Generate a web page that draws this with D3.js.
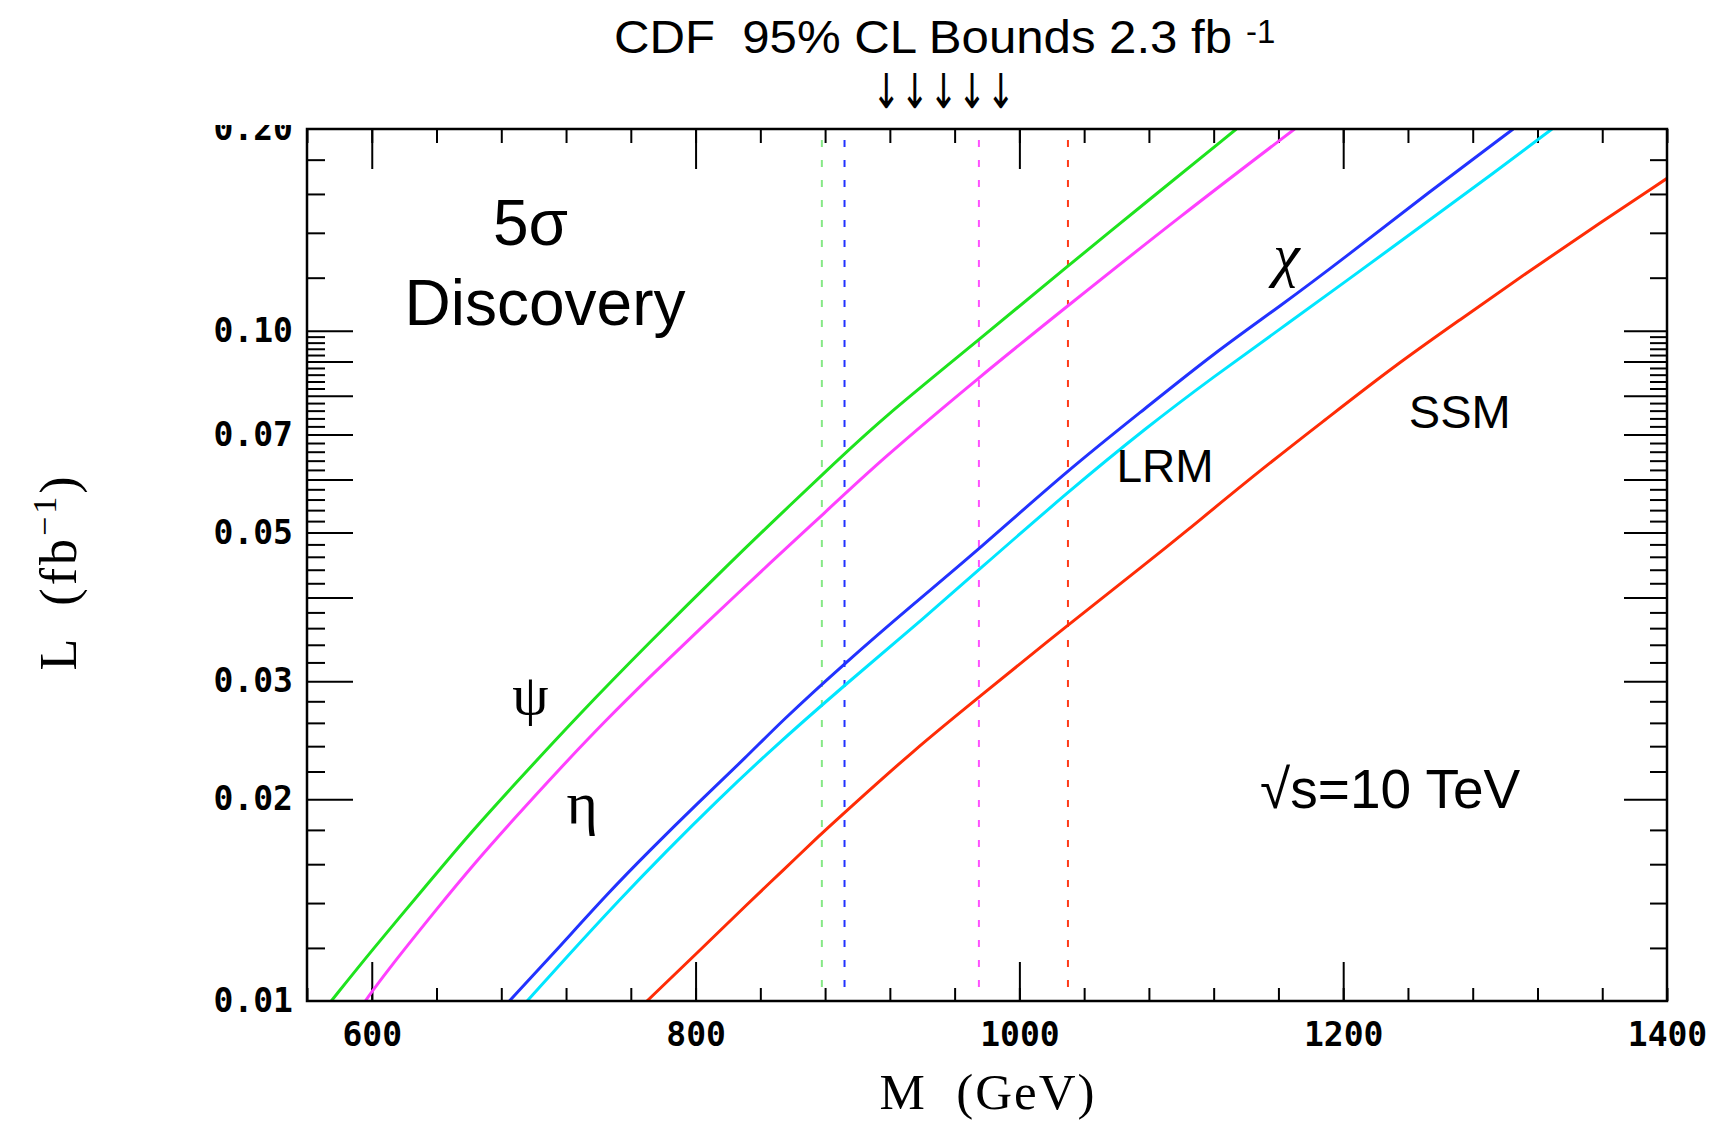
<!DOCTYPE html>
<html>
<head>
<meta charset="utf-8">
<script src="https://cdn.jsdelivr.net/npm/d3@7"></script>
<style>
  body { margin: 0; background: #fff; }
  text { white-space: pre; }
</style>
</head>
<body>
<svg id="chart"></svg>
<script>
'use strict'

const width = 1725,
      height = 1121

// discovery curves (mass in GeV, luminosity in fb^-1)
const psiMass = [575, 600, 634, 659, 687, 727, 770, 823, 852, 878, 914, 975, 1030, 1079, 1134]
const psiLum  = [0.0100, 0.0119, 0.0149, 0.0176, 0.0209, 0.0266, 0.0340, 0.0455, 0.0531, 0.0609, 0.0736, 0.0969, 0.1250, 0.1560, 0.2000]

const etaMass = [596, 607, 642, 663, 687, 716, 745, 772, 799, 850, 878, 914, 975, 1030, 1099, 1170]
const etaLum  = [0.0100, 0.0109, 0.0139, 0.0160, 0.0186, 0.0222, 0.0263, 0.0305, 0.0352, 0.0460, 0.0530, 0.0640, 0.0852, 0.1090, 0.1480, 0.2000]

const chiMass = [685, 714, 746, 772, 801, 832, 852, 892, 935, 975, 1030, 1079, 1120, 1161, 1200, 1252, 1305]
const chiLum  = [0.0100, 0.0119, 0.0145, 0.0168, 0.0197, 0.0232, 0.0260, 0.0319, 0.0392, 0.0472, 0.0620, 0.0770, 0.0925, 0.1088, 0.1280, 0.1604, 0.2000]

const lrmMass = [696, 720, 753, 782, 813, 844, 892, 935, 975, 1030, 1079, 1120, 1161, 1200, 1252, 1293, 1329]
const lrmLum  = [0.0100, 0.0116, 0.01416, 0.01674, 0.01986, 0.0234, 0.0296, 0.0362, 0.0440, 0.0575, 0.0719, 0.0854, 0.1006, 0.1177, 0.1455, 0.1720, 0.2000]

const ssmMass = [770, 801, 834, 852, 878, 892, 935, 975, 1030, 1081, 1099, 1149, 1190, 1231, 1272, 1313, 1355, 1400]
const ssmLum  = [0.0100, 0.0118, 0.0141, 0.0155, 0.0178, 0.0191, 0.0237, 0.0284, 0.0364, 0.0455, 0.0493, 0.0620, 0.0740, 0.0884, 0.1038, 0.1219, 0.1429, 0.1688]

// CDF 95% CL lower mass bounds (dashed lines)
const boundModels = ['psi', 'chi', 'eta', 'ssm']
const boundMass   = [878, 892, 975, 1030]

// axes
const massDomain   = [560, 1400]
const lumDomain    = [0.01, 0.2]
const massMajor    = [600, 800, 1000, 1200]
const massMinor    = d3.range(560, 1401, 40)
const lumLabels    = [0.01, 0.02, 0.03, 0.05, 0.07, 0.10, 0.20]
const lumMajor     = [0.02, 0.03, 0.04, 0.05, 0.06, 0.07, 0.08, 0.09, 0.10]
const lumMinor     = [0.012, 0.014, 0.016, 0.018].concat(
                       d3.range(22, 100, 2).filter(v => v % 10 !== 0).map(v => v / 1000),
                       [0.12, 0.14, 0.16, 0.18])
const massTickText = [600, 800, 1000, 1200, 1400]

// text annotations placed in data coordinates
const noteText = ['5σ', 'Discovery', 'ψ', 'η', 'χ', 'LRM', 'SSM', '√s=10 TeV']
const noteMass = [698, 707, 698, 730, 1165, 1090, 1272, 1229]
const noteLum  = [0.1343, 0.102, 0.0268, 0.01843, 0.1211, 0.0595, 0.0716, 0.0194]

const colors = {
  psi: '#1ee31e',
  eta: '#ff40ff',
  chi: '#2232ff',
  lrm: '#00e6ff',
  ssm: '#ff2c06'
}
const boundColors = {
  psi: '#86e886',
  eta: '#ff50ff',
  chi: '#2232ff',
  ssm: '#ff3a18'
}

const models = [
  { key: 'psi', mass: psiMass, lum: psiLum },
  { key: 'eta', mass: etaMass, lum: etaLum },
  { key: 'chi', mass: chiMass, lum: chiLum },
  { key: 'lrm', mass: lrmMass, lum: lrmLum },
  { key: 'ssm', mass: ssmMass, lum: ssmLum }
]

const plotLeft = 307, plotRight = 1667, plotTop = 129, plotBottom = 1001

const svg = d3.select('#chart')
  .attr('width', width)
  .attr('height', height)

const x = d3.scaleLinear().domain(massDomain).range([plotLeft, plotRight])
const y = d3.scaleLog().domain(lumDomain).range([plotBottom, plotTop])

const defs = svg.append('defs')
defs.append('clipPath').attr('id', 'plot')
  .append('rect')
    .attr('x', plotLeft).attr('y', plotTop)
    .attr('width', plotRight - plotLeft).attr('height', plotBottom - plotTop)
// the top label of the y axis is cut off in the original
defs.append('clipPath').attr('id', 'ylab')
  .append('rect')
    .attr('x', -plotLeft).attr('y', 125)
    .attr('width', plotLeft).attr('height', height)

// tick marks, all pointing into the frame
function ticks(axis, tx, ty) {
  const g = svg.append('g')
    .attr('transform', `translate(${tx},${ty})`)
    .call(axis.tickFormat(''))
  g.select('.domain').remove()
  g.selectAll('line').attr('stroke', '#000').attr('stroke-width', 2)
}
ticks(d3.axisTop(x).tickValues(massMinor).tickSize(13), 0, plotBottom)
ticks(d3.axisTop(x).tickValues(massMajor).tickSize(39), 0, plotBottom)
ticks(d3.axisBottom(x).tickValues(massMinor).tickSize(14), 0, plotTop)
ticks(d3.axisBottom(x).tickValues(massMajor).tickSize(40), 0, plotTop)
ticks(d3.axisRight(y).tickValues(lumMinor).tickSize(18), plotLeft, 0)
ticks(d3.axisRight(y).tickValues(lumMajor).tickSize(46), plotLeft, 0)
ticks(d3.axisLeft(y).tickValues(lumMinor).tickSize(17), plotRight, 0)
ticks(d3.axisLeft(y).tickValues(lumMajor).tickSize(43), plotRight, 0)

// tick labels
const xLab = svg.append('g')
  .attr('transform', `translate(0,${plotBottom})`)
  .call(d3.axisBottom(x).tickValues(massTickText).tickSize(0).tickPadding(22).tickFormat(d3.format('d')))
xLab.select('.domain').remove()

const yLab = svg.append('g')
  .attr('transform', `translate(${plotLeft},0)`)
  .attr('clip-path', 'url(#ylab)')
  .call(d3.axisLeft(y).tickValues(lumLabels).tickSize(0).tickPadding(14).tickFormat(d3.format('.2f')))
yLab.select('.domain').remove()

svg.selectAll('.tick text')
  .attr('fill', '#000')
  .style('font-family', '"DejaVu Sans Mono", monospace')
  .style('font-weight', 'bold')
  .style('font-size', '33px')

// dashed CDF bound lines
svg.append('g')
    .attr('clip-path', 'url(#plot)')
  .selectAll('line')
  .data(boundMass)
  .join('line')
    .attr('x1', d => x(d)).attr('x2', d => x(d))
    .attr('y1', y(lumDomain[1])).attr('y2', y(lumDomain[0]))
    .attr('stroke', (d, i) => boundColors[boundModels[i]])
    .attr('stroke-width', 2)
    .attr('stroke-dasharray', '7,13')
    .attr('stroke-dashoffset', -11)

// discovery curves
const line = d3.line()
  .x(d => x(d[0]))
  .y(d => y(d[1]))
  .curve(d3.curveBasis)

svg.append('g')
    .attr('clip-path', 'url(#plot)')
  .selectAll('path')
  .data(models)
  .join('path')
    .attr('d', m => line(d3.zip(m.mass, m.lum)))
    .attr('fill', 'none')
    .attr('stroke', m => colors[m.key])
    .attr('stroke-width', 3)

// frame
svg.append('rect')
  .attr('x', plotLeft).attr('y', plotTop)
  .attr('width', plotRight - plotLeft).attr('height', plotBottom - plotTop)
  .attr('fill', 'none')
  .attr('stroke', '#000')
  .attr('stroke-width', 2.5)

// annotations
const noteStyle = {
  '5σ':        { font: '"Liberation Sans", Arial, sans-serif', size: 64 },
  'Discovery': { font: '"Liberation Sans", Arial, sans-serif', size: 64 },
  'ψ':         { font: '"Liberation Serif", serif', size: 58 },
  'η':         { font: '"Liberation Serif", serif', size: 60 },
  'χ':         { font: '"Liberation Serif", serif', size: 60, italic: true },
  'LRM':       { font: '"Liberation Sans", Arial, sans-serif', size: 46 },
  'SSM':       { font: '"Liberation Sans", Arial, sans-serif', size: 47 },
  '√s=10 TeV': { font: '"Liberation Sans", Arial, sans-serif', size: 55 }
}
svg.append('g')
  .selectAll('text')
  .data(noteText)
  .join('text')
    .attr('x', (d, i) => x(noteMass[i]))
    .attr('y', (d, i) => y(noteLum[i]))
    .attr('text-anchor', 'middle')
    .style('font-family', d => noteStyle[d].font)
    .style('font-size', d => noteStyle[d].size + 'px')
    .style('font-style', d => noteStyle[d].italic ? 'italic' : 'normal')
    .text(d => d)

// title with the arrows pointing at the bounds
svg.append('text')
  .attr('x', 614).attr('y', 53)
  .attr('textLength', 618)
  .attr('lengthAdjust', 'spacingAndGlyphs')
  .style('font-family', '"Liberation Sans", Arial, sans-serif')
  .style('font-size', '46px')
  .text('CDF  95% CL Bounds 2.3 fb')
svg.append('text')
  .attr('x', 1246).attr('y', 43)
  .style('font-family', '"Liberation Sans", Arial, sans-serif')
  .style('font-size', '33px')
  .text('-1')
svg.append('text')
  .attr('x', 872).attr('y', 108)
  .attr('textLength', 143)
  .attr('lengthAdjust', 'spacingAndGlyphs')
  .style('font-family', '"DejaVu Sans", sans-serif')
  .style('font-size', '48px')
  .text('↓↓↓↓↓')

// axis titles
svg.append('text')
  .attr('x', (plotLeft + plotRight) / 2).attr('y', 1109)
  .attr('text-anchor', 'middle')
  .attr('textLength', 215)
  .attr('lengthAdjust', 'spacing')
  .style('font-family', '"Liberation Serif", serif')
  .style('font-size', '51px')
  .text('M  (GeV)')

const yTitle = svg.append('text')
  .attr('transform', `translate(76,${(plotTop + plotBottom) / 2 + 7}) rotate(-90)`)
  .attr('text-anchor', 'middle')
  .style('font-family', '"Liberation Serif", serif')
  .style('font-size', '52px')
  .style('letter-spacing', '3px')
yTitle.append('tspan').text('L  (fb')
yTitle.append('tspan').attr('dy', -20).style('font-size', '34px').text('−1')
yTitle.append('tspan').attr('dy', 20).text(')')
</script>
</body>
</html>
